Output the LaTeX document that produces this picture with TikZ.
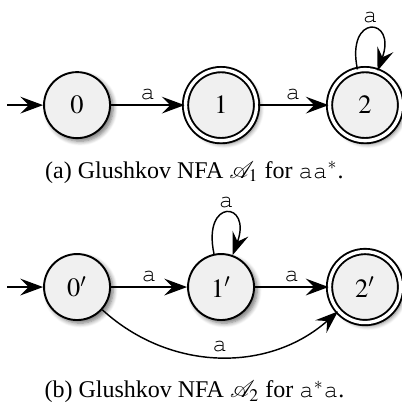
\documentclass[tikz,border=0pt]{standalone}
\usepackage[T1]{fontenc}
\usepackage{mathptmx}
\usepackage{mathrsfs}
\usepackage[no-math]{fontspec}
\setmainfont{Liberation Serif}
\newcommand\courier{\fontencoding{T1}\fontfamily{pcr}\selectfont}
\usepackage{tikz}
\usetikzlibrary{positioning,arrows.meta,shadows.blur}

\tikzset{
  glstate/.style={circle, draw, thick, fill=black!6, minimum size=27.5pt, inner sep=0pt,
    font=\fontsize{11}{13}\selectfont,
    blur shadow={shadow xshift=1.3pt, shadow yshift=-1.3pt, shadow blur steps=6, shadow opacity=55}},
  glfinal/.style={glstate, double, double distance=1.4pt, minimum size=29.6pt},
  trans/.style={semithick, -{Stealth[length=9.5pt,width=7pt,inset=3.5pt]}},
  lbl/.style={font=\courier, inner sep=2pt},
  selfloop/.style={out=102, in=70, min distance=24pt},
  caption/.style={anchor=base, font=\normalsize}
}

\begin{document}
\begin{tikzpicture}[x=1pt, y=1pt, node distance=60pt, on grid]
    \useasboundingbox (0,0) rectangle (167.1,-171.25);

    % A1 for aa*
    \node[glstate] (q0) at (32.1,-43.8) {$0$};
    \node[glfinal, right=of q0] (q1) {$1$};
    \node[glfinal, right=of q1] (q2) {$2$};
    \coordinate[left=29pt of q0] (init1);

    \draw[trans] (init1) -- (q0);
    \draw[trans] (q0) -- node[lbl, above] {a} (q1);
    \draw[trans] (q1) -- node[lbl, above] {a} (q2);
    \draw[trans] (q2) to[selfloop] node[lbl, above] {a} (q2);

    \node[caption] (capa) at (81,-74.2) {(a) Glushkov NFA $\mathscr{A}_1$ for {\courier aa}$^*$.};

    % A2 for a*a
    \node[glstate] (p0) at (32.1,-119.6) {$0'$};
    \node[glstate, right=of p0] (p1) {$1'$};
    \node[glfinal, right=of p1] (p2) {$2'$};
    \coordinate[left=29pt of p0] (init2);

    \draw[trans] (init2) -- (p0);
    \draw[trans] (p0) -- node[lbl, above] {a} (p1);
    \draw[trans] (p1) -- node[lbl, above] {a} (p2);
    \draw[trans] (p1) to[selfloop] node[lbl, above] {a} (p1);
    \draw[trans] (p0) to[bend right=42] node[lbl, above] {a} (p2);

    \node[caption] (capb) at (81,-165.8) {(b) Glushkov NFA $\mathscr{A}_2$ for {\courier a}$^*${\courier a}.};
\end{tikzpicture}
\end{document}
